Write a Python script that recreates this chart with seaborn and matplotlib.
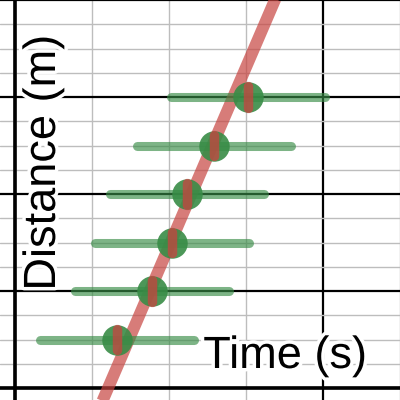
import numpy as np
import pandas as pd
import matplotlib
matplotlib.use("Agg")
import matplotlib.pyplot as plt
import matplotlib.patheffects as pe
import seaborn as sns

# data
time_s = [0.66, 0.89, 1.02, 1.12, 1.29, 1.51]
distance_m = [10, 20, 30, 40, 50, 60]
time_err = [0.5, 0.5, 0.5, 0.5, 0.5, 0.5]
dist_err = [2.2, 2.2, 2.2, 2.2, 2.2, 2.2]
fit_x = [0.55, 1.70]
fit_y = [-4.0, 80.9]

sns.set_theme(style="white")
plt.rcParams["font.family"] = ["Liberation Sans", "DejaVu Sans"]

green = "#388c46"
red = "#c74440"

fig = plt.figure(figsize=(4, 4), dpi=100)
ax = fig.add_axes([0, 0, 1, 1])
ax.set_xlim(-0.0974, 2.5)
ax.set_ylim(-2.47, 80)

ax.set_xticks(np.arange(0, 2.6, 2))
ax.set_xticks(np.arange(0, 2.6, 0.5), minor=True)
ax.set_yticks(np.arange(0, 81, 20))
ax.set_yticks(np.arange(0, 81, 5), minor=True)
ax.grid(which="minor", color="#bdbdbd", linewidth=1.0, zorder=0)
ax.grid(which="major", color="black", linewidth=1.6, zorder=0.5)
ax.tick_params(which="both", length=0, labelbottom=False, labelleft=False)
for s in ax.spines.values():
    s.set_visible(False)
ax.set_axisbelow(True)
ax.axhline(0, color="black", linewidth=2.6, zorder=1)
ax.axvline(0, color="black", linewidth=2.6, zorder=1)

df = pd.DataFrame({"t": time_s, "d": distance_m, "te": time_err, "de": dist_err})
fit = pd.DataFrame({"t": fit_x, "d": fit_y})

sns.lineplot(data=fit, x="t", y="d", ax=ax, color=red, alpha=0.7,
             linewidth=8.6, solid_capstyle="butt", zorder=2)
ax.hlines(df["d"], df["t"] - df["te"], df["t"] + df["te"], colors=green,
          alpha=0.65, linewidth=6.5, capstyle="round", zorder=3)
sns.scatterplot(data=df, x="t", y="d", ax=ax, color=green, alpha=0.9,
                s=480, linewidth=0, zorder=4)
ax.vlines(df["t"], df["d"] - df["de"], df["d"] + df["de"], colors=red,
          alpha=0.75, linewidth=6.8, capstyle="round", zorder=5)

ax.set_xlabel("")
ax.set_ylabel("")
halo = [pe.withStroke(linewidth=5, foreground="white")]
ax.text(0.1375, 0.9125, "Distance (m)", transform=ax.transAxes, rotation=90,
        rotation_mode="anchor", ha="right", va="baseline", fontsize=32.5,
        color="black", path_effects=halo, zorder=6)
ax.text(0.9175, 0.08, "Time (s)", transform=ax.transAxes, ha="right",
        va="baseline", fontsize=32.5, color="black", path_effects=halo, zorder=6)

fig.savefig("out.png", dpi=100)
